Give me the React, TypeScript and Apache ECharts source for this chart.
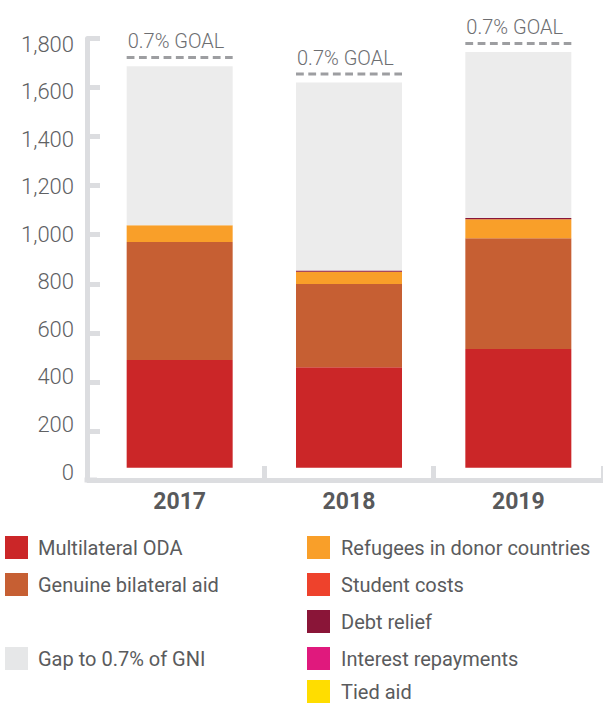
import React, { useEffect, useRef } from "react";
import * as echarts from "echarts";

const categories = ["2017", "2018", "2019"];
const multilateralODA = [439, 410, 484];
const genuineBilateral = [481, 339, 452];
const refugees = [69, 50, 77];
const studentCosts = [0, 0, 0];
const debtRelief = [0, 5, 5];
const interestRepayments = [0, 0, 0];
const tiedAid = [0, 0, 0];
const gapToGoal = [648, 767, 677];
const goalLevel = [1673, 1605, 1730];
const yTickLabels = [0, 200, 400, 600, 800, 1000, 1200, 1400, 1600, 1800];
const goalLabel = "0.7% GOAL";

const COLORS: Record<string, string> = {
  "Multilateral ODA": "#cb2628",
  "Genuine bilateral aid": "#c65f33",
  "Refugees in donor countries": "#f99f29",
  "Student costs": "#ee422c",
  "Debt relief": "#8a1538",
  "Interest repayments": "#e0197d",
  "Tied aid": "#ffdd00",
  "Gap to 0.7% of GNI": "#ececec",
};

const FONT = "Roboto";
const AXIS_GRAY = "#dcdde0";
const TEXT_GRAY = "#5a5b5d";

export default function App() {
  const ref = useRef<HTMLDivElement>(null);

  useEffect(() => {
    if (!ref.current) return;
    const chart = echarts.init(ref.current, null, { renderer: "svg" });

    const stackSeries: [string, number[]][] = [
      ["Multilateral ODA", multilateralODA],
      ["Genuine bilateral aid", genuineBilateral],
      ["Refugees in donor countries", refugees],
      ["Student costs", studentCosts],
      ["Debt relief", debtRelief],
      ["Interest repayments", interestRepayments],
      ["Tied aid", tiedAid],
      ["Gap to 0.7% of GNI", gapToGoal],
    ];

    const barSeries = stackSeries.map(([name, data]) => ({
      type: "bar",
      name,
      stack: "total",
      yAxisIndex: 2,
      barWidth: 106,
      data,
      itemStyle: { color: COLORS[name] },
      emphasis: { disabled: true },
    }));

    const legendText = {
      fontFamily: FONT,
      fontSize: 20,
      color: TEXT_GRAY,
      padding: [0, 0, 0, 5],
    };
    const legendBase = {
      orient: "vertical",
      icon: "rect",
      itemWidth: 23,
      itemHeight: 23,
      itemGap: 14,
      padding: 0,
      selectedMode: false,
      textStyle: legendText,
    };
    const rightText = { ...legendText, padding: [0, 0, 0, 6] };
    const legendItem = (name: string, color?: string) => ({
      name,
      itemStyle: { color: color || COLORS[name] },
    });

    const option: any = {
      animation: false,
      grid: { left: 95, top: 38.5, width: 510, height: 441.5 },
      xAxis: {
        type: "category",
        data: categories,
        boundaryGap: true,
        axisLine: { show: true, lineStyle: { color: AXIS_GRAY, width: 5 } },
        axisTick: {
          show: true,
          inside: true,
          length: 14,
          interval: (i: number) => i !== 0,
          lineStyle: { color: AXIS_GRAY, width: 5 },
        },
        axisLabel: {
          margin: 10,
          fontFamily: FONT,
          fontSize: 23,
          fontWeight: "bold",
          color: "#58595b",
        },
        splitLine: { show: false },
      },
      yAxis: [
        {
          type: "value",
          position: "left",
          offset: 8,
          min: 0,
          max: 1800,
          interval: 200,
          axisLine: { show: true, lineStyle: { color: AXIS_GRAY, width: 5 } },
          axisTick: {
            show: true,
            inside: true,
            length: 13,
            lineStyle: { color: AXIS_GRAY, width: 5 },
          },
          axisLabel: { show: false },
          splitLine: { show: false },
        },
        {
          type: "value",
          position: "left",
          offset: 8,
          min: -33.6,
          max: 1823.2,
          axisLine: { show: false },
          axisTick: { show: false },
          splitLine: { show: false },
          axisLabel: {
            show: true,
            customValues: yTickLabels,
            margin: 13,
            fontFamily: FONT,
            fontSize: 22,
            fontWeight: 300,
            color: "#606163",
            formatter: (v: number) => v.toLocaleString("en-US"),
          },
        },
        {
          type: "value",
          position: "left",
          show: false,
          min: -50,
          max: 1750,
          splitLine: { show: false },
        },
      ],
      legend: [
        {
          ...legendBase,
          left: 5,
          top: 536,
          data: [legendItem("Multilateral ODA"), legendItem("Genuine bilateral aid")],
        },
        {
          ...legendBase,
          left: 5,
          top: 647,
          data: [legendItem("Gap to 0.7% of GNI", "#e6e7e8")],
        },
        {
          ...legendBase,
          left: 307,
          top: 536,
          textStyle: rightText,
          data: [
            legendItem("Refugees in donor countries"),
            legendItem("Student costs"),
            legendItem("Debt relief"),
            legendItem("Interest repayments"),
          ],
        },
        {
          ...legendBase,
          left: 307,
          top: 680,
          textStyle: rightText,
          data: [legendItem("Tied aid")],
        },
      ],
      graphic: [
        {
          type: "line",
          shape: { x1: 84.5, y1: 480, x2: 97, y2: 480 },
          style: { stroke: AXIS_GRAY, lineWidth: 5 },
          silent: true,
        },
      ],
      series: [
        ...barSeries,
        {
          type: "custom",
          name: "goal",
          yAxisIndex: 2,
          clip: false,
          silent: true,
          data: goalLevel.map((v, i) => [i, v]),
          renderItem: (_params: any, api: any) => {
            const p = api.coord([api.value(0), api.value(1)]);
            const half = 53;
            return {
              type: "group",
              children: [
                {
                  type: "line",
                  shape: { x1: p[0] - half, y1: p[1], x2: p[0] + half, y2: p[1] },
                  style: { stroke: "#9d9ea1", lineWidth: 3, lineDash: [7.8, 4.5] },
                },
                {
                  type: "text",
                  x: p[0] - half + 1,
                  y: p[1] - 16,
                  style: {
                    text: goalLabel,
                    fill: "#6d6e71",
                    fontFamily: FONT,
                    fontSize: 20,
                    fontWeight: 300,
                    verticalAlign: "middle",
                    align: "left",
                  },
                },
              ],
            };
          },
        },
      ],
    };

    chart.setOption(option);
    return () => chart.dispose();
  }, []);

  return (
    <div
      ref={ref}
      style={{ position: "absolute", left: 0, top: 0, width: 603, height: 704 }}
    />
  );
}
